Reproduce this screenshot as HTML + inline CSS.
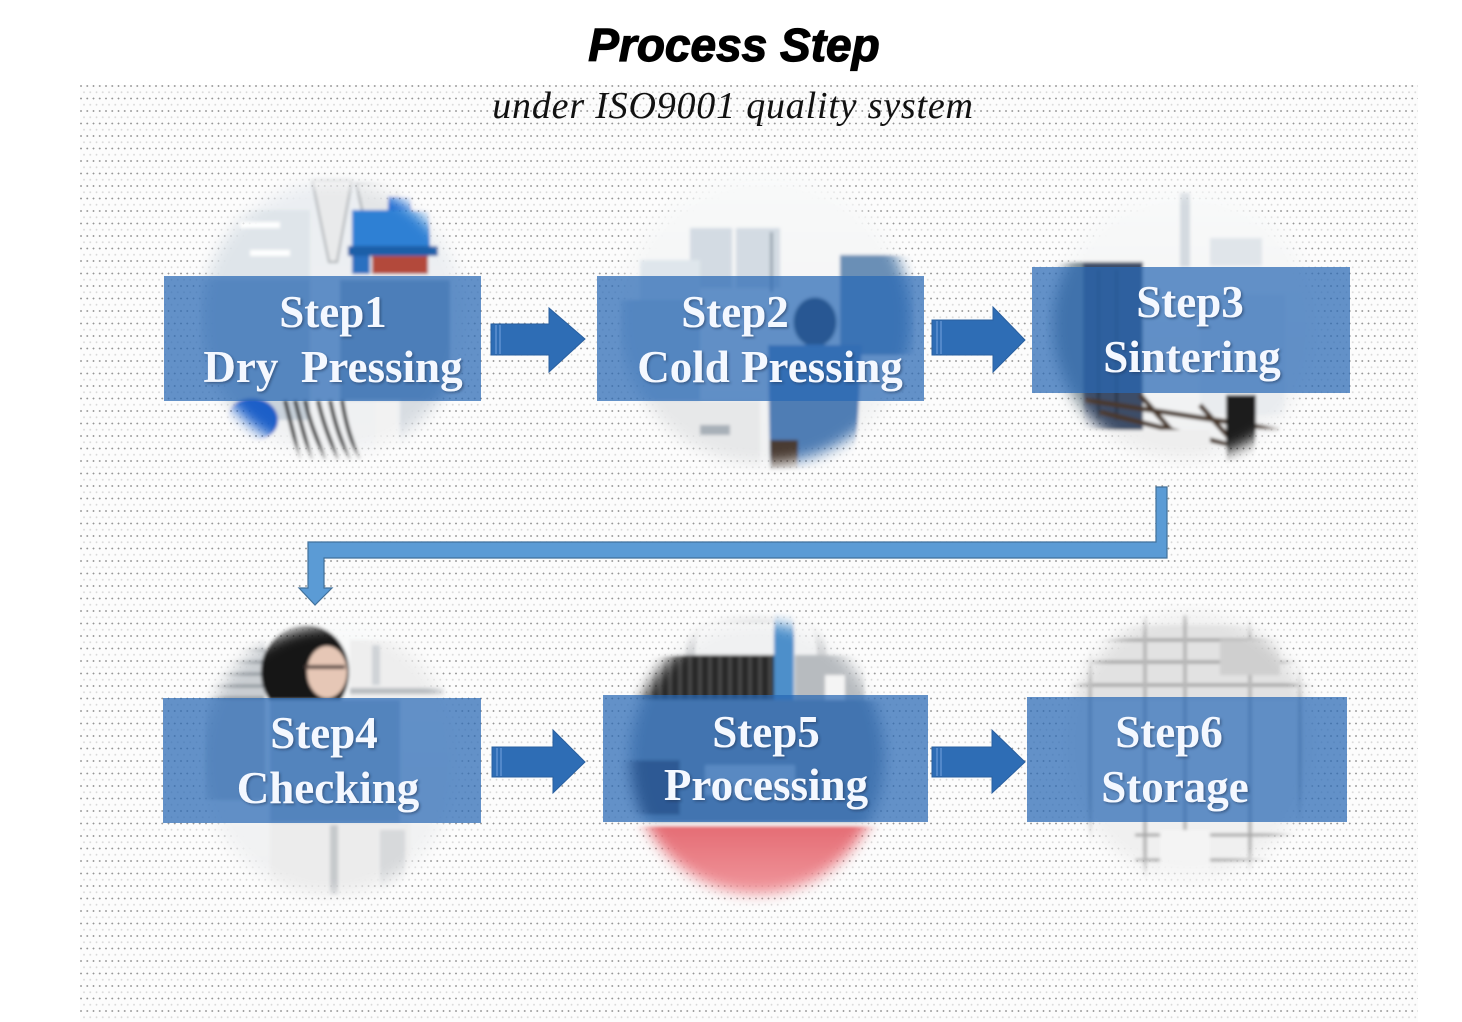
<!DOCTYPE html>
<html>
<head>
<meta charset="utf-8">
<style>
  html,body{margin:0;padding:0;}
  body{width:1462px;height:1022px;position:relative;overflow:hidden;background:#ffffff;}
  .dots{position:absolute;left:80px;top:85px;width:1338px;height:937px;
    background-color:#fcfcfc;
    background-image:
      radial-gradient(circle at 1px 1px, #979797 0.75px, rgba(0,0,0,0) 1.05px),
      radial-gradient(circle at 1px 1px, #d6d6d6 0.7px, rgba(0,0,0,0) 1.05px);
    background-size:6.25px 12.5px, 6.25px 12.5px;
    background-position:0 0, 3px 6.25px;}
  svg{position:absolute;left:0;top:0;}
</style>
</head>
<body>
<div class="dots"></div>
<svg width="1462" height="1022" viewBox="0 0 1462 1022" xmlns="http://www.w3.org/2000/svg">
  <defs>
    <filter id="feather" x="-30%" y="-30%" width="160%" height="160%"><feGaussianBlur stdDeviation="7"/></filter>
    <filter id="soft" x="-10%" y="-10%" width="120%" height="120%"><feGaussianBlur stdDeviation="1.6"/></filter>
    <filter id="tshadow" x="-10%" y="-20%" width="120%" height="140%">
      <feDropShadow dx="1.5" dy="1.5" stdDeviation="1.2" flood-color="#1b3558" flood-opacity="0.55"/>
    </filter>
    <mask id="m1" maskUnits="userSpaceOnUse" x="0" y="0" width="1462" height="1022"><ellipse cx="333" cy="318" rx="132" ry="136" fill="#fff" filter="url(#feather)"/></mask>
    <mask id="m2" maskUnits="userSpaceOnUse" x="0" y="0" width="1462" height="1022"><ellipse cx="765" cy="320" rx="146" ry="144" fill="#fff" filter="url(#feather)"/></mask>
    <mask id="m3" maskUnits="userSpaceOnUse" x="0" y="0" width="1462" height="1022"><ellipse cx="1185" cy="325" rx="132" ry="134" fill="#fff" filter="url(#feather)"/></mask>
    <mask id="m4" maskUnits="userSpaceOnUse" x="0" y="0" width="1462" height="1022"><ellipse cx="330" cy="760" rx="129" ry="134" fill="#fff" filter="url(#feather)"/></mask>
    <mask id="m5" maskUnits="userSpaceOnUse" x="0" y="0" width="1462" height="1022"><ellipse cx="757" cy="758" rx="127" ry="136" fill="#fff" filter="url(#feather)"/></mask>
    <mask id="m6" maskUnits="userSpaceOnUse" x="0" y="0" width="1462" height="1022"><ellipse cx="1190" cy="745" rx="124" ry="132" fill="#fff" filter="url(#feather)"/></mask>
    <linearGradient id="g1" x1="0" y1="0" x2="0" y2="1"><stop offset="0" stop-color="#eaeef2"/><stop offset="1" stop-color="#f1f2f3"/></linearGradient>
    <linearGradient id="g2" x1="0" y1="0" x2="0" y2="1"><stop offset="0" stop-color="#f9fafa"/><stop offset="1" stop-color="#eff0f1"/></linearGradient>
    <linearGradient id="red" x1="0" y1="0" x2="0" y2="1"><stop offset="0" stop-color="#e46a72"/><stop offset="1" stop-color="#f3a3a8"/></linearGradient>
  </defs>

  <!-- Photo 1 : Dry pressing -->
  <g mask="url(#m1)">
    <g filter="url(#soft)">
      <rect x="180" y="160" width="310" height="320" fill="url(#g1)"/>
      <rect x="200" y="210" width="110" height="70" fill="#dfe5ea"/>
      <rect x="240" y="222" width="40" height="6" fill="#ffffff"/>
      <rect x="250" y="250" width="40" height="6" fill="#ffffff"/>
      <rect x="200" y="280" width="110" height="140" fill="#c9d3dc"/>
      <polygon points="312,180 352,180 337,262 329,262" fill="#e9eaeb" stroke="#a9adb1" stroke-width="2"/>
      <polygon points="356,183 400,183 383,268 375,268" fill="#e4e6e8" stroke="#a0a5aa" stroke-width="2"/>
      <rect x="388" y="196" width="24" height="30" fill="#1f6ad0"/>
      <rect x="352" y="210" width="78" height="38" fill="#2d80d4"/>
      <rect x="348" y="246" width="90" height="10" fill="#1d5ea8"/>
      <rect x="372" y="256" width="56" height="18" fill="#b34a3b"/>
      <rect x="352" y="256" width="18" height="18" fill="#2a6fc0"/>
      <rect x="340" y="280" width="110" height="120" fill="#aab8c6"/>
      <rect x="375" y="400" width="22" height="60" fill="#f2f2f2"/>
      <ellipse cx="252" cy="420" rx="26" ry="22" fill="#1f5fc8"/>
      <path d="M285 400 C290 420 295 440 300 460 M295 400 C300 420 305 440 312 460 M305 400 C310 425 318 440 325 460 M318 400 C322 420 330 440 338 460 M330 400 C334 420 340 440 350 460 M342 400 C345 420 350 440 360 460" stroke="#2a2a2a" stroke-width="4" fill="none"/>
      <rect x="400" y="400" width="60" height="50" fill="#d8dde2"/>
    </g>
  </g>

  <!-- Photo 2 : Cold pressing -->
  <g mask="url(#m2)">
    <g filter="url(#soft)">
      <rect x="600" y="160" width="330" height="320" fill="url(#g2)"/>
      <rect x="690" y="228" width="90" height="60" fill="#d3dbe3"/>
      <rect x="732" y="228" width="4" height="60" fill="#f5f6f7"/>
      <rect x="770" y="232" width="3" height="60" fill="#9aa5b0"/>
      <rect x="640" y="260" width="60" height="40" fill="#dfe6ec"/>
      <rect x="840" y="255" width="75" height="100" fill="#6a8fb6"/>
      <rect x="620" y="300" width="80" height="100" fill="#c4d2df"/>
      <ellipse cx="815" cy="322" rx="22" ry="25" fill="#2a2f3c"/>
      <polygon points="768,345 862,345 855,470 770,470" fill="#4f7db4"/>
      <rect x="770" y="440" width="28" height="30" fill="#4a3a30"/>
      <rect x="640" y="400" width="120" height="70" fill="#e7e8e9"/>
      <rect x="700" y="425" width="30" height="10" fill="#a8b0b8"/>
    </g>
  </g>

  <!-- Photo 3 : Sintering -->
  <g mask="url(#m3)">
    <g filter="url(#soft)">
      <rect x="1040" y="180" width="300" height="300" fill="url(#g2)"/>
      <rect x="1180" y="192" width="10" height="75" fill="#d4dae0"/>
      <rect x="1210" y="238" width="52" height="28" fill="#e0e5ea"/>
      <rect x="1045" y="262" width="38" height="180" fill="#7e8d96"/>
      <rect x="1083" y="262" width="60" height="170" fill="#3c4d68"/>
      <rect x="1097" y="270" width="3" height="150" fill="#2b384c"/>
      <rect x="1115" y="270" width="3" height="150" fill="#2b384c"/>
      <rect x="1200" y="295" width="85" height="120" fill="#e9ecef"/>
      <path d="M1085 400 L1280 430 M1100 412 L1230 445 M1140 395 L1180 440 M1200 405 L1240 450" stroke="#4a382c" stroke-width="5" fill="none"/>
      <rect x="1226" y="395" width="30" height="68" fill="#1e1e1e"/>
      <rect x="1060" y="430" width="150" height="40" fill="#eeeeee"/>
    </g>
  </g>

  <!-- Photo 4 : Checking -->
  <g mask="url(#m4)">
    <g filter="url(#soft)">
      <rect x="190" y="610" width="290" height="300" fill="url(#g2)"/>
      <rect x="205" y="640" width="60" height="160" fill="#c9cdd1"/>
      <path d="M205 650 H265 M205 662 H265 M205 674 H265 M205 686 H265 M205 698 H265" stroke="#8f959b" stroke-width="3"/>
      <rect x="350" y="640" width="95" height="58" fill="#eeeeee"/>
      <rect x="350" y="688" width="95" height="6" fill="#b9bdc1"/>
      <rect x="372" y="645" width="8" height="40" fill="#cfd3d7"/>
      <ellipse cx="305" cy="672" rx="44" ry="48" fill="#161616"/>
      <ellipse cx="327" cy="672" rx="20" ry="26" fill="#e6c7b6"/>
      <rect x="305" y="665" width="40" height="4" fill="#5a4a44"/>
      <rect x="270" y="700" width="130" height="200" fill="#c2ccd5"/>
      <rect x="270" y="822" width="140" height="80" fill="#ececec"/>
      <rect x="330" y="825" width="8" height="70" fill="#c6c9cc"/>
      <rect x="380" y="830" width="25" height="60" fill="#d7d9db"/>
    </g>
  </g>

  <!-- Photo 5 : Processing -->
  <g mask="url(#m5)">
    <g filter="url(#soft)">
      <rect x="610" y="605" width="300" height="310" fill="#f0f1f2"/>
      <path d="M690 660 C690 620 700 618 740 618 L800 618 C815 618 822 630 822 660" stroke="#d0d2d4" stroke-width="10" fill="none"/>
      <rect x="630" y="655" width="150" height="52" fill="#2c2c2c"/>
      <path d="M640 655 V707 M650 655 V707 M660 655 V707 M670 655 V707 M680 655 V707 M690 655 V707 M700 655 V707 M710 655 V707 M720 655 V707 M730 655 V707 M740 655 V707 M750 655 V707 M760 655 V707 M770 655 V707" stroke="#555" stroke-width="2"/>
      <rect x="774" y="612" width="20" height="90" fill="#4d8fca"/>
      <rect x="795" y="655" width="70" height="45" fill="#b7bbbf"/>
      <rect x="825" y="675" width="20" height="25" fill="#f4f4f4"/>
      <rect x="605" y="700" width="330" height="125" fill="#8494a6"/>
      <rect x="610" y="760" width="70" height="55" fill="#3b3540"/>
      <rect x="705" y="765" width="90" height="30" fill="#d6dde4"/>
      <rect x="620" y="822" width="280" height="90" fill="url(#red)"/>
      <rect x="620" y="822" width="280" height="4" fill="#f5f5f5"/>
    </g>
  </g>

  <!-- Photo 6 : Storage -->
  <g mask="url(#m6)">
    <g filter="url(#soft)">
      <rect x="1050" y="600" width="290" height="300" fill="#f0f0f0"/>
      <rect x="1070" y="625" width="250" height="75" fill="#e2e2e2"/>
      <path d="M1070 640 H1320 M1070 662 H1320 M1070 685 H1320" stroke="#9d9d9d" stroke-width="3"/>
      <path d="M1090 615 V880 M1145 615 V880 M1185 615 V880 M1250 615 V880 M1300 615 V880" stroke="#b8b8b8" stroke-width="4"/>
      <rect x="1220" y="640" width="60" height="35" fill="#cfcfcf"/>
      <path d="M1135 835 H1300 M1135 860 H1300" stroke="#a5a5a5" stroke-width="3"/>
      <rect x="1160" y="830" width="50" height="50" fill="#f4f4f4"/>
    </g>
  </g>

  <!-- Step boxes -->
  <g fill="rgb(40,104,180)" fill-opacity="0.72">
    <rect x="164" y="276" width="317" height="125"/>
    <rect x="597" y="276" width="327" height="125"/>
    <rect x="1032" y="267" width="318" height="126"/>
    <rect x="163" y="698" width="318" height="125"/>
    <rect x="603" y="695" width="325" height="127"/>
    <rect x="1027" y="697" width="320" height="125"/>
  </g>

  <!-- Block arrows -->
  <g fill="#2e6db5" stroke="#295f9f" stroke-width="1">
    <polygon points="491,324 549,324 549,308 585,339 549,372 549,355 491,355"/>
    <polygon points="932,320 993,320 993,307 1025,340 993,372 993,355 932,355"/>
    <polygon points="492,747 553,747 553,730 585,762 553,793 553,777 492,777"/>
    <polygon points="932,747 992,747 992,730 1025,762 992,793 992,777 932,777"/>
  </g>
  <g fill="#5b8fd0" opacity="0.8">
    <rect x="495" y="325" width="2" height="29"/><rect x="499" y="325" width="2" height="29"/>
    <rect x="936" y="321" width="2" height="33"/><rect x="940" y="321" width="2" height="33"/>
    <rect x="496" y="748" width="2" height="28"/><rect x="500" y="748" width="2" height="28"/>
    <rect x="936" y="748" width="2" height="28"/><rect x="940" y="748" width="2" height="28"/>
  </g>

  <!-- Connector from Step3 to Step4 -->
  <polygon points="1156,487 1167,487 1167,558 324,558 324,588 332,588 315,605 299,588 308,588 308,542 1156,542"
           fill="#5b9bd5" stroke="#41719c" stroke-width="1.2"/>

  <!-- Title -->
  <text x="734" y="61" text-anchor="middle" font-family="'Liberation Sans', sans-serif" font-weight="bold" font-style="italic" font-size="46" fill="#000" stroke="#000" stroke-width="1.2">Process Step</text>
  <text x="733" y="118" text-anchor="middle" font-family="'Liberation Serif', serif" font-style="italic" font-size="38" letter-spacing="0.8" fill="#111">under ISO9001 quality system</text>

  <!-- Step labels -->
  <g font-family="'Liberation Serif', serif" font-weight="bold" font-size="45" fill="#f4f8ff" text-anchor="middle" filter="url(#tshadow)">
    <text x="333" y="327">Step1</text>
    <text x="333" y="382">Dry&#160; Pressing</text>
    <text x="735" y="327">Step2</text>
    <text x="770" y="382">Cold Pressing</text>
    <text x="1190" y="317">Step3</text>
    <text x="1192" y="372">Sintering</text>
    <text x="324" y="748">Step4</text>
    <text x="328" y="803">Checking</text>
    <text x="766" y="747">Step5</text>
    <text x="766" y="800">Processing</text>
    <text x="1169" y="747">Step6</text>
    <text x="1175" y="802">Storage</text>
  </g>
</svg>
</body>
</html>
